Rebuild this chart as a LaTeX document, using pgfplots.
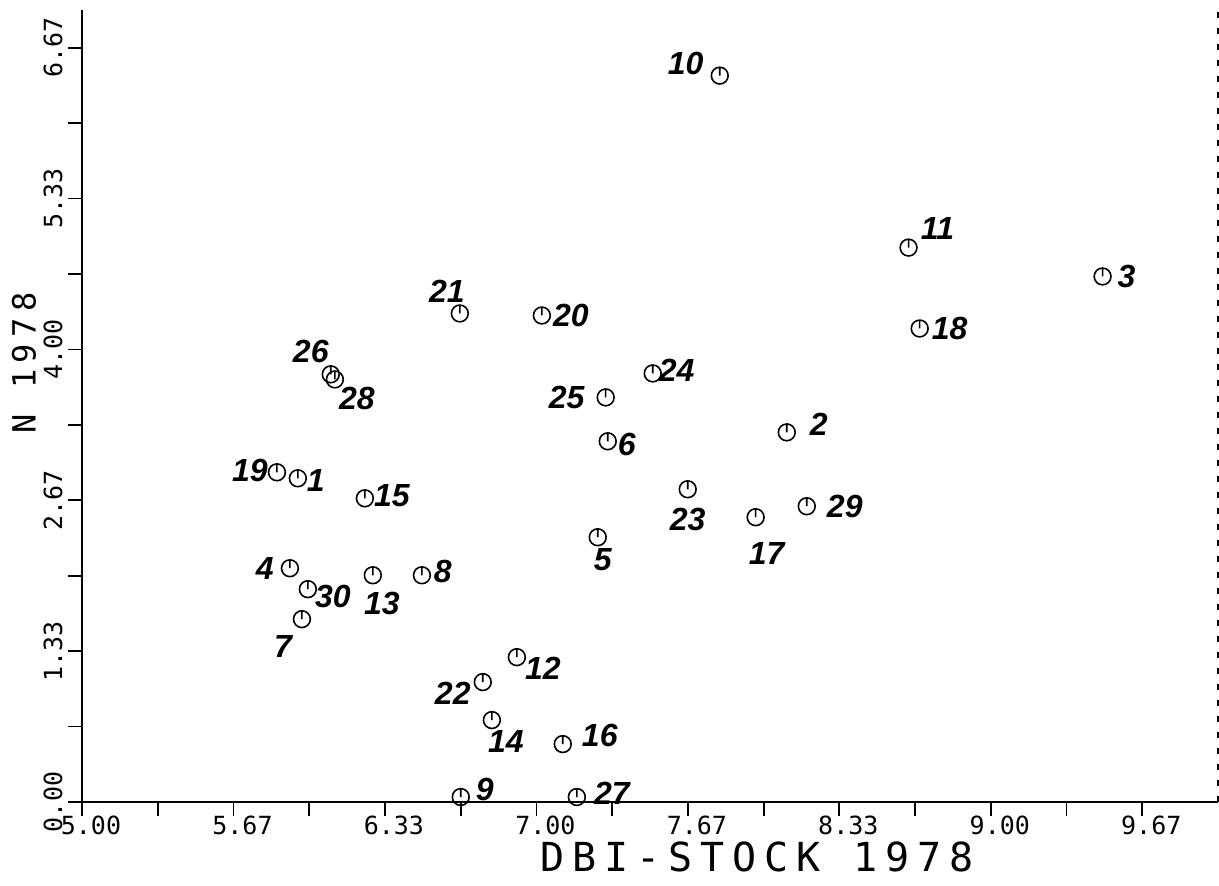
\documentclass[border=0pt]{standalone}
\usepackage{fontspec}
\usepackage{pgfplots}
\pgfplotsset{compat=1.18}
\newfontfamily\tickfont{DejaVu Sans Mono}
\newfontfamily\axfont[LetterSpace=20]{DejaVu Sans Mono}
\newfontfamily\handfont{Liberation Sans}

\pgfdeclareplotmark{clk}{%
  \pgfpathcircle{\pgfpointorigin}{\pgfplotmarksize}%
  \pgfpathmoveto{\pgfpoint{0pt}{\pgfplotmarksize}}%
  \pgfpathlineto{\pgfpointorigin}%
  \pgfusepathqstroke}

\pgfplotstableread{
lab x y dx dy
1 5.950 2.861 9 -1
2 8.102 3.267 16 4
3 9.492 4.645 12 0
4 5.915 2.066 -12.5 0
5 7.270 2.340 2.5 -11
6 7.314 3.188 9.5 -1.5
7 5.968 1.616 -9.5 -13.5
8 6.496 2.004 10.5 2
9 6.667 0.044 12 4
10 7.807 6.420 -17 6
11 8.638 4.900 14.5 9.5
12 6.914 1.280 13 -5.5
13 6.280 2.004 4.5 -14
14 6.804 0.724 7 -10.5
15 6.245 2.684 13.5 1.5
16 7.116 0.512 18.5 4.5
17 7.965 2.517 5.5 -18
18 8.687 4.185 15 0
19 5.858 2.914 -13.5 1
20 7.024 4.300 14.5 0
21 6.663 4.318 -6.5 11
22 6.764 1.060 -15 -5.5
23 7.666 2.764 0 -15
24 7.512 3.788 12 1.5
25 7.305 3.576 -19.5 0
26 6.095 3.780 -10 11.5
27 7.178 0.044 17.5 2
28 6.113 3.735 11 -9.5
29 8.190 2.614 19 0
30 5.994 1.881 12.5 -3.5
}\pointdata

\begin{document}
\begin{tikzpicture}
\useasboundingbox (-41pt,-42pt) rectangle (568.5pt,401pt);
\begin{axis}[
  scale only axis, width=568pt, height=396pt,
  xmin=5, xmax=10, ymin=0, ymax=7,
  axis x line*=bottom, axis y line*=left,
  axis line style={line width=1pt, -},
  tick align=outside,
  major tick length=7pt, minor tick length=7pt,
  every tick/.style={black, line width=0.9pt},
  xtick={5,5.6667,6.3333,7,7.6667,8.3333,9,9.6667},
  xticklabels={5.00,5.67,6.33,7.00,7.67,8.33,9.00,9.67},
  minor xtick={5.3333,6,6.6667,7.3333,8,8.6667,9.3333},
  ytick={0,1.3333,2.6667,4,5.3333,6.6667},
  yticklabels={0.00,1.33,2.67,4.00,5.33,6.67},
  minor ytick={0.6667,2,3.3333,4.6667,6},
  xticklabel style={font=\tickfont\fontsize{12.5}{14}\selectfont, inner sep=0pt, anchor=north, xshift=4.5pt},
  yticklabel style={font=\tickfont\fontsize{12.5}{14}\selectfont, inner sep=0pt, xshift=-2.5pt, rotate=90, anchor=south},
  xlabel={DBI-STOCK 1978}, ylabel={N 1978},
  xlabel style={font=\axfont\fontsize{20}{24}\selectfont, at={(axis description cs:0.594,-0.0694)}, anchor=center, inner sep=0pt},
  ylabel style={font=\axfont\fontsize{16}{20}\selectfont, at={(axis description cs:-0.051,0.554)}, anchor=center, inner sep=0pt},
  clip=false,
]
\draw[line width=1pt, dash pattern=on 3pt off 5pt] (rel axis cs:1,0) -- (rel axis cs:1,1);
\addplot[only marks, mark=clk, mark size=4.2pt, mark options={line width=0.8pt, black},
  point meta=explicit symbolic,
  nodes near coords,
  visualization depends on={\thisrow{dx}\as\dx},
  visualization depends on={\thisrow{dy}\as\dy},
  every node near coord/.append style={anchor=center, xshift=\dx pt, yshift=\dy pt,
    font=\handfont\bfseries\itshape\fontsize{16}{18}\selectfont, text=black, inner sep=0pt},
] table[x=x, y=y, meta=lab] {\pointdata};
\end{axis}
\end{tikzpicture}
\end{document}
